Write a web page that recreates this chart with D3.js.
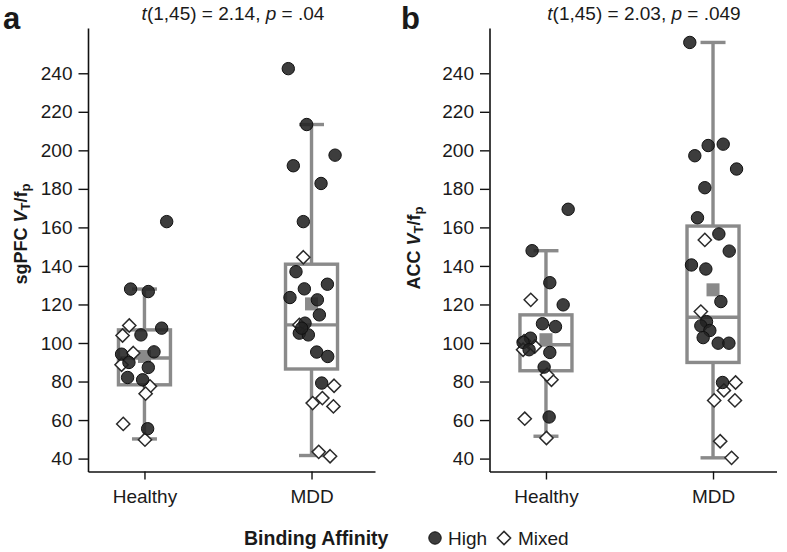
<!DOCTYPE html>
<html><head><meta charset="utf-8">
<script src="https://cdn.jsdelivr.net/npm/d3@7/dist/d3.min.js"></script>
<style>
body{margin:0;background:#fff}
svg{display:block}
text{font-family:"Liberation Sans",Arial,sans-serif;fill:#1a1a1a}
</style>
</head><body>
<svg id="chart" width="787" height="552"></svg>
<script>
// ---------- DATA ----------
const categories = ["Healthy", "MDD"];
const yTicks = [40, 60, 80, 100, 120, 140, 160, 180, 200, 220, 240];
const panelLetters = ["a", "b"];
const regionNames = ["sgPFC", "ACC"];
const tValues = ["2.14", "2.03"];
const pValues = [".04", ".049"];
const legendTitle = "Binding Affinity";
const legendLabels = ["High", "Mixed"];

// box stats: [lower whisker, Q1, median, Q3, upper whisker, mean]
const sgpfcBoxHealthy = [50.2, 78.3, 92.2, 106.8, 128.0, 93.0];
const sgpfcBoxMDD     = [41.6, 86.5, 109.4, 140.9, 213.4, 120.3];
const accBoxHealthy   = [51.6, 85.6, 99.1, 114.6, 147.9, 101.7];
const accBoxMDD       = [40.4, 89.9, 113.4, 160.7, 256.0, 127.6];

// points: [jitter (category units), value]
const sgpfcHealthyHigh = [[-0.083,128],[0.023,126.7],[0.103,107.7],[-0.021,104.2],[0.057,95.4],[-0.137,94.2],[-0.093,89.9],[0.023,87.3],[-0.101,82.1],[-0.011,80.9],[0.019,55.5],[0.133,163]];
const sgpfcHealthyMixed = [[-0.091,109.1],[-0.131,103.9],[-0.067,94.8],[-0.137,88.7],[0.033,77.5],[0.007,73.7],[-0.127,58],[0.003,49.8]];
const sgpfcMDDHigh = [[-0.139,242.4],[-0.029,213.4],[0.141,197.5],[-0.109,192],[0.057,182.8],[-0.049,163],[-0.093,137],[0.095,130.5],[-0.043,128.1],[-0.129,123.6],[0.035,122.4],[0.047,114.6],[-0.039,110.3],[-0.073,105.1],[-0.019,104.2],[-0.059,107.7],[0.031,95.3],[0.097,93],[0.061,79.2]];
const sgpfcMDDMixed = [[-0.049,144.5],[-0.073,109.4],[0.135,77.8],[0.065,71.4],[0.007,68.8],[0.131,67.1],[0.043,43.5],[0.111,41.2]];

const accHealthyHigh = [[0.133,169.4],[-0.083,147.9],[0.023,131.3],[0.103,119.8],[-0.021,110],[0.057,108.5],[-0.093,102.5],[-0.137,100.3],[-0.101,96.5],[0.023,95.1],[-0.011,87.5],[0.019,61.6]];
const accHealthyMixed = [[-0.091,122.4],[-0.131,101],[-0.067,98.2],[-0.137,96.5],[0.033,80.9],[0.007,83.5],[-0.127,60.7],[0.003,50.7]];
const accMDDHigh = [[-0.139,256],[-0.029,202.5],[0.061,203.2],[-0.109,197.2],[0.141,190.3],[-0.049,180.6],[-0.093,165],[0.035,156.6],[0.097,147.7],[-0.129,140.5],[-0.043,138.4],[0.047,121.5],[-0.039,111.1],[-0.073,108.9],[-0.019,106.5],[-0.059,102.8],[0.031,99.9],[0.095,99.9],[0.057,79.5]];
const accMDDMixed = [[-0.049,153.5],[-0.073,116.3],[0.135,79.5],[0.065,75.4],[0.007,70.2],[0.131,70.2],[0.043,49],[0.111,40.4]];

// ---------- LAYOUT ----------
const yTop = 28, yBottom = 471.5;
const panels = [
  {left: 88, right: 375, letterX: 3, titleX: 233, ylabX: 27, ylabY: 234,
   boxes: [sgpfcBoxHealthy, sgpfcBoxMDD],
   high: [sgpfcHealthyHigh, sgpfcMDDHigh], mixed: [sgpfcHealthyMixed, sgpfcMDDMixed]},
  {left: 489.5, right: 776.5, letterX: 401, titleX: 644, ylabX: 420, ylabY: 248,
   boxes: [accBoxHealthy, accBoxMDD],
   high: [accHealthyHigh, accMDDHigh], mixed: [accHealthyMixed, accMDDMixed]}
];
const boxGray = "#8a8a8a";
const boxHalf = 26, capHalf = 12.5, meanSide = 13;
const ptR = 6.2, diaR = 6.6;

const svg = d3.select("#chart");
const y = d3.scaleLinear().domain([33.3, 263.5]).range([yBottom, yTop]);

panels.forEach((p, pi) => {
  const x = d3.scaleLinear().domain([-0.338, 1.38]).range([p.left, p.right]);
  const g = svg.append("g");

  const ya = g.append("g").attr("transform", `translate(${p.left},0)`)
    .call(d3.axisLeft(y).tickValues(yTicks).tickSize(9.5).tickSizeOuter(0).tickPadding(6));
  const xa = g.append("g").attr("transform", `translate(0,${yBottom})`)
    .call(d3.axisBottom(x).tickValues([0, 1]).tickFormat(i => categories[i]).tickSize(8).tickSizeOuter(0).tickPadding(10));
  [ya, xa].forEach(a => {
    a.select(".domain").attr("stroke", "#111").attr("stroke-width", 1.6);
    a.selectAll(".tick line").attr("stroke", "#111").attr("stroke-width", 1.4);
    a.selectAll(".tick text").style("font-size", "19px").style("font-family", '"Liberation Sans",Arial,sans-serif').attr("fill", "#1a1a1a");
  });

  p.boxes.forEach((b, ci) => {
    const cx = x(ci);
    const bg = g.append("g").attr("stroke", boxGray).attr("stroke-width", 3.4).attr("fill", "none");
    bg.append("line").attr("x1", cx).attr("x2", cx).attr("y1", y(b[4])).attr("y2", y(b[3]));
    bg.append("line").attr("x1", cx).attr("x2", cx).attr("y1", y(b[1])).attr("y2", y(b[0]));
    bg.append("line").attr("x1", cx - capHalf).attr("x2", cx + capHalf).attr("y1", y(b[4])).attr("y2", y(b[4]));
    bg.append("line").attr("x1", cx - capHalf).attr("x2", cx + capHalf).attr("y1", y(b[0])).attr("y2", y(b[0]));
    bg.append("rect").attr("x", cx - boxHalf).attr("width", boxHalf * 2).attr("y", y(b[3])).attr("height", y(b[1]) - y(b[3]));
    bg.append("line").attr("x1", cx - boxHalf).attr("x2", cx + boxHalf).attr("y1", y(b[2])).attr("y2", y(b[2]));
    g.append("rect").attr("x", cx - meanSide / 2).attr("y", y(b[5]) - meanSide / 2)
      .attr("width", meanSide).attr("height", meanSide).attr("fill", boxGray);
  });

  p.mixed.forEach((pts, ci) => {
    g.selectAll(null).data(pts).join("path")
      .attr("d", `M0,${-diaR}L${diaR},0L0,${diaR}L${-diaR},0Z`)
      .attr("transform", d => `translate(${x(ci + d[0])},${y(d[1])})`)
      .attr("fill", "#fff").attr("stroke", "#2a2a2a").attr("stroke-width", 1.5);
  });
  p.high.forEach((pts, ci) => {
    g.selectAll(null).data(pts).join("circle")
      .attr("cx", d => x(ci + d[0])).attr("cy", d => y(d[1])).attr("r", ptR)
      .attr("fill", "#222").attr("fill-opacity", 0.88).attr("stroke", "#111").attr("stroke-width", 1);
  });

  svg.append("text").attr("x", p.letterX).attr("y", 29).style("font-size", "31px").style("font-weight", "bold").text(panelLetters[pi]);

  const t = svg.append("text").attr("x", p.titleX).attr("y", 20).attr("text-anchor", "middle").style("font-size", "19px");
  t.append("tspan").style("font-style", "italic").text("t");
  t.append("tspan").text(`(1,45) = ${tValues[pi]}, `);
  t.append("tspan").style("font-style", "italic").text("p");
  t.append("tspan").text(` = ${pValues[pi]}`);

  const yl = svg.append("text").attr("transform", `translate(${p.ylabX},${p.ylabY}) rotate(-90)`)
    .attr("text-anchor", "middle").style("font-size", "18px").style("font-weight", "bold");
  yl.append("tspan").text(regionNames[pi] + " ");
  yl.append("tspan").style("font-style", "italic").text("V");
  yl.append("tspan").attr("baseline-shift", "-25%").style("font-size", "13px").text("T");
  yl.append("tspan").text("/f");
  yl.append("tspan").attr("baseline-shift", "-25%").style("font-size", "13px").text("p");
});

const lg = svg.append("g");
lg.append("text").attr("x", 244).attr("y", 545).style("font-size", "19.5px").style("font-weight", "bold").text(legendTitle);
lg.append("circle").attr("cx", 435).attr("cy", 538).attr("r", ptR).attr("fill", "#222").attr("fill-opacity", 0.88).attr("stroke", "#111");
lg.append("text").attr("x", 448).attr("y", 545).style("font-size", "19px").text(legendLabels[0]);
lg.append("path").attr("d", `M0,${-diaR}L${diaR},0L0,${diaR}L${-diaR},0Z`).attr("transform", "translate(504,538)")
  .attr("fill", "#fff").attr("stroke", "#2a2a2a").attr("stroke-width", 1.5);
lg.append("text").attr("x", 518).attr("y", 545).style("font-size", "19px").text(legendLabels[1]);
</script>
</body></html>
